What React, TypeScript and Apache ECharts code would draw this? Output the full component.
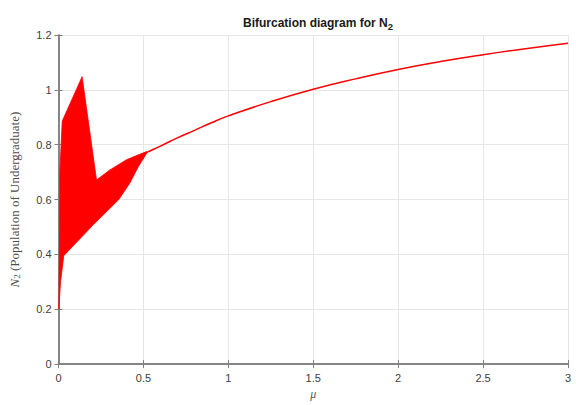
import React, { useEffect, useRef } from "react";
import * as echarts from "echarts";

// Outline of the chaotic (filled) band: upper edge left->right, lower edge right->left
const bandMu = [0.002, 0.006, 0.008, 0.022, 0.139, 0.224, 0.3, 0.4, 0.47, 0.52, 0.52, 0.47, 0.42, 0.355, 0.2, 0.031, 0.012];
const bandN = [0.2, 0.45, 0.7, 0.886, 1.048, 0.671, 0.707, 0.745, 0.763, 0.775, 0.77, 0.72, 0.66, 0.6, 0.505, 0.395, 0.3];

// Single stable branch after the band merges
const curveMu = [0.5, 0.52, 0.6, 0.7, 0.8, 0.9, 1.0, 1.25, 1.5, 1.75, 2.0, 2.25, 2.5, 2.75, 3.0];
const curveN = [0.766, 0.772, 0.795, 0.825, 0.852, 0.88, 0.905, 0.957, 1.002, 1.04, 1.074, 1.103, 1.128, 1.15, 1.17];

const xTicks = [0, 0.5, 1, 1.5, 2, 2.5, 3];
const yTicks = [0, 0.2, 0.4, 0.6, 0.8, 1, 1.2];

export default function App() {
  const ref = useRef<HTMLDivElement>(null);
  useEffect(() => {
    const chart = echarts.init(ref.current!, null, { renderer: "svg" });
    const axisColor = "#7f7f7f";
    const labelStyle = { color: "#404040", fontSize: 11, fontFamily: "Liberation Sans, Arial, sans-serif" };
    const curveData = curveMu.map((m, i) => [m, curveN[i]]);
    chart.setOption({
      animation: false,
      backgroundColor: "#ffffff",
      title: {
        text: "{b|Bifurcation diagram for N}{s|2}",
        left: 313,
        top: 10,
        textAlign: "center",
        textStyle: {
          rich: {
            b: { fontSize: 12, fontWeight: "bold", color: "#1a1a1a", fontFamily: "Liberation Sans, Arial, sans-serif" },
            s: { fontSize: 9.5, fontWeight: "bold", color: "#1a1a1a", fontFamily: "Liberation Sans, Arial, sans-serif", padding: [6, 0, 0, 0] },
          },
        },
      },
      grid: { left: 58, right: 8, top: 35, bottom: 34 },
      xAxis: [
        {
          type: "value",
          min: 0,
          max: 3,
          interval: 0.5,
          position: "bottom",
          name: "μ",
          nameLocation: "middle",
          nameGap: 20,
          nameTextStyle: { fontFamily: "Liberation Serif, Times New Roman, serif", fontStyle: "italic", fontSize: 12, color: "#555" },
          axisLine: { show: true, lineStyle: { color: axisColor, width: 1.5 } },
          axisTick: { show: true, inside: true, length: 4, lineStyle: { color: axisColor } },
          axisLabel: { ...labelStyle, margin: 8 },
          splitLine: { show: true, lineStyle: { color: "#e6e6e6", width: 1 } },
        },
        {
          type: "value",
          min: 0,
          max: 3,
          interval: 0.5,
          position: "top",
          axisLine: { show: true, lineStyle: { color: axisColor, width: 1.5 } },
          axisTick: { show: true, inside: true, length: 4, lineStyle: { color: axisColor } },
          axisLabel: { show: false },
          splitLine: { show: false },
        },
      ],
      yAxis: [
        {
          type: "value",
          min: 0,
          max: 1.2,
          interval: 0.2,
          position: "left",
          name: "{n|N}{s|2} (Population of Undergraduate)",
          nameLocation: "middle",
          nameGap: 37,
          nameTextStyle: {
            color: "#4d4d4d",
            rich: {
              n: { fontFamily: "Liberation Serif, Times New Roman, serif", fontStyle: "italic", fontSize: 13, color: "#4d4d4d" },
              s: { fontFamily: "Liberation Serif, Times New Roman, serif", fontSize: 9, color: "#4d4d4d", padding: [5, 0, 0, 0] },
            },
            fontFamily: "Liberation Serif, Times New Roman, serif",
            fontSize: 13,
          },
          axisLine: { show: true, lineStyle: { color: axisColor, width: 1.5 } },
          axisTick: { show: true, inside: true, length: 4, lineStyle: { color: axisColor } },
          axisLabel: { ...labelStyle, margin: 7 },
          splitLine: { show: true, lineStyle: { color: "#e6e6e6", width: 1 } },
        },
        {
          type: "value",
          min: 0,
          max: 1.2,
          interval: 0.2,
          position: "right",
          axisLine: { show: true, lineStyle: { color: axisColor, width: 1.5 } },
          axisTick: { show: true, inside: true, length: 4, lineStyle: { color: axisColor } },
          axisLabel: { show: false },
          splitLine: { show: false },
        },
      ],
      series: [
        {
          type: "custom",
          xAxisIndex: 0,
          yAxisIndex: 0,
          data: [[bandMu[0], bandN[0]]],
          renderItem: (params: any, api: any) => {
            const pts = bandMu.map((m, i) => api.coord([m, bandN[i]]));
            return {
              type: "polygon",
              shape: { points: pts },
              style: { fill: "#ff0000", stroke: "#ff0000", lineWidth: 0.8 },
            };
          },
          silent: true,
        },
        {
          type: "line",
          xAxisIndex: 0,
          yAxisIndex: 0,
          data: curveData,
          smooth: true,
          showSymbol: false,
          lineStyle: { color: "#ff0000", width: 1.5 },
          silent: true,
        },
      ],
    });
    return () => chart.dispose();
  }, []);
  return <div ref={ref} style={{ position: "fixed", left: 0, top: 0, width: 576, height: 405 }} />;
}
